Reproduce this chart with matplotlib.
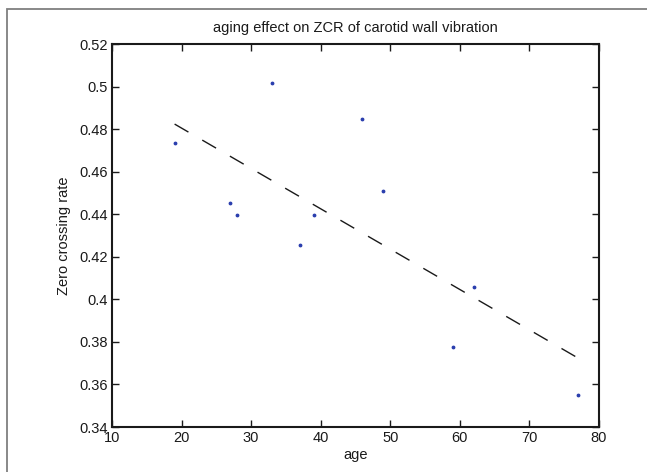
import numpy as np
import matplotlib
matplotlib.use("Agg")
import matplotlib.pyplot as plt
from matplotlib.patches import Rectangle

ages = [19, 27, 28, 33, 37, 39, 46, 49, 59, 62, 77]
zcr = [0.4733, 0.4453, 0.4398, 0.5017, 0.4257, 0.4398, 0.4848, 0.4509, 0.3776, 0.4058, 0.3550]
xticks = [10, 20, 30, 40, 50, 60, 70, 80]
yticks = [0.34, 0.36, 0.38, 0.40, 0.42, 0.44, 0.46, 0.48, 0.50, 0.52]
yticklabels = ["0.34", "0.36", "0.38", "0.4", "0.42", "0.44", "0.46", "0.48", "0.5", "0.52"]

plt.rcParams['font.family'] = ['Liberation Sans', 'DejaVu Sans']
plt.rcParams['lines.scale_dashes'] = False

W, H = 647, 472
fig = plt.figure(figsize=(W / 100, H / 100), dpi=100)
fig.patches.append(Rectangle((7 / W, -0.1), 1.2, 1 - 9 / H + 0.1, transform=fig.transFigure,
                             fill=False, edgecolor='#7f7f7f', linewidth=1.3))
ax = fig.add_axes([112 / W, 1 - 427 / H, (599 - 112) / W, (427 - 44) / H])

x = np.array(ages, dtype=float)
y = np.array(zcr)
p = np.polyfit(x, y, 1)
xs = np.array([x.min(), x.max()])
ax.plot(xs, np.polyval(p, xs), color='#1a1a1a', linewidth=1.0, dashes=(11.5, 11.5))
ax.plot(x, y, linestyle='none', marker='.', markersize=3.5, color='#2b3fae')

ax.set_xlim(10, 80)
ax.set_ylim(0.34, 0.52)
ax.set_xticks(xticks)
ax.set_yticks(yticks)
ax.set_yticklabels(yticklabels)
ax.tick_params(direction='in', length=5, width=1.0, top=True, right=True,
               labelsize=10.5, colors='#1a1a1a', pad=3)
for s in ax.spines.values():
    s.set_linewidth(1.5)
    s.set_color('#1a1a1a')
ax.set_title("aging effect on ZCR of carotid wall vibration", fontsize=10.5, color='#1a1a1a', pad=9)
ax.set_xlabel("age", fontsize=10.5, color='#1a1a1a', labelpad=2)
ax.set_ylabel("Zero crossing rate", fontsize=10.5, color='#1a1a1a', labelpad=6)

fig.savefig("out.png", dpi=100)
